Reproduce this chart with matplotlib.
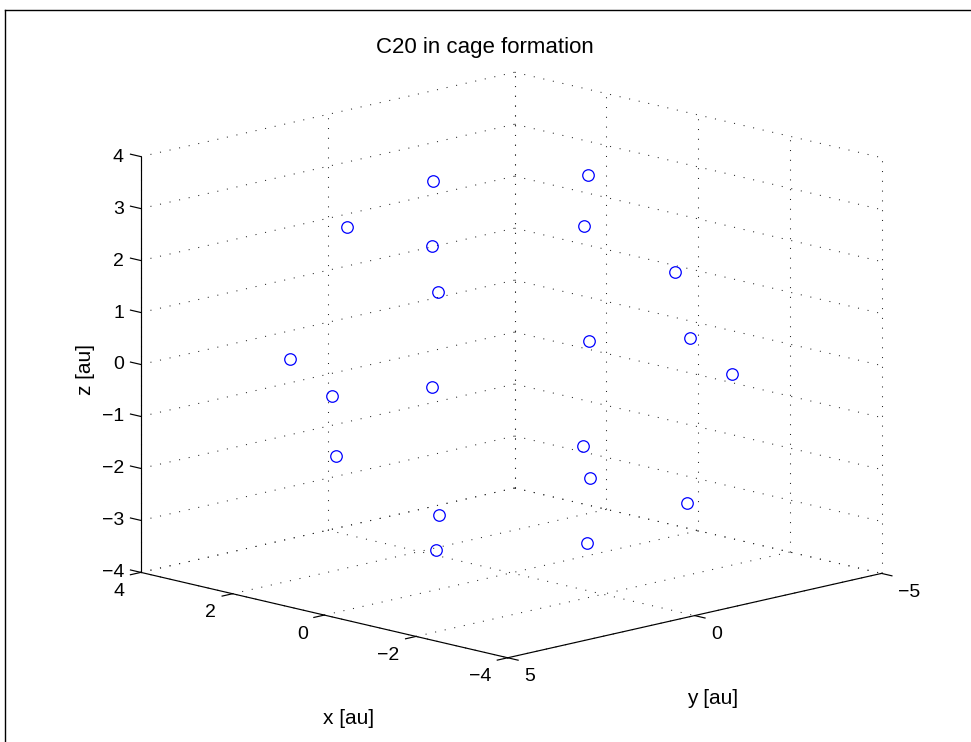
import numpy as np
import matplotlib
matplotlib.use("Agg")
import matplotlib.pyplot as plt
from matplotlib.lines import Line2D
from mpl_toolkits.mplot3d import proj3d

# ---------------- data (atomic positions, au) ----------------
x_au = [2.45, -0.10, 2.21, -1.73, -0.27, -0.76, 3.18, -3.68, 1.18, 2.89,
        -2.89, -1.16, 3.68, -3.15, 1.03, 0.27, -2.35, 1.72, 0.08, -2.41]
y_au = [-0.91, -1.94, 1.67, 0.17, 2.44, -3.45, -1.93, -0.28, -3.52, 2.36,
        -2.35, 3.53, 0.29, 1.95, 3.42, -2.44, -1.81, -0.17, 1.92, 0.94]
z_au = [2.89, 3.37, 2.48, 3.06, 2.74, 1.38, 0.43, 1.23, -0.36, -0.09,
        0.03, 0.39, -1.30, -0.60, -1.40, -2.62, -2.46, -3.26, -3.27, -2.77]

x_ticks = [-4, -2, 0, 2, 4]
y_ticks = [-5, 0, 5]
z_ticks = [-4, -3, -2, -1, 0, 1, 2, 3, 4]
xlim = (-4, 4)
ylim = (-5, 5)
zlim = (-4, 4)
title = "C20 in cage formation"
xlabel = "x [au]"
ylabel = "y [au]"
zlabel = "z [au]"

plt.rcParams['font.family'] = ['Liberation Sans', 'DejaVu Sans']
FS_TICK = 14
FS_LAB = 15
FS_TITLE = 16

W, H = 971, 742
fig = plt.figure(figsize=(W / 100, H / 100), dpi=100)
S0 = 600.0
ax = fig.add_axes([(W / 2 - S0 / 2) / W, (H / 2 - S0 / 2) / H, S0 / W, S0 / H],
                  projection='3d', proj_type='ortho', computed_zorder=False)
ax.view_init(elev=13.25, azim=135.44)
ax.set_box_aspect((1.0, 1.0034, 0.817))
ax.set_xlim(*xlim)
ax.set_ylim(*ylim)
ax.set_zlim(*zlim)
ax.set_axis_off()

# ---- calibrate axes placement so the box lands where the reference box is ----
fig.canvas.draw()


def to_px(xs, ys, zs):
    X, Y, _ = proj3d.proj_transform(np.asarray(xs, float), np.asarray(ys, float),
                                    np.asarray(zs, float), ax.get_proj())
    return ax.transData.transform(np.column_stack([X, Y]))


x0, x1 = xlim
y0, y1 = ylim
z0, z1 = zlim
corners = [(x1, y1, z0), (x0, y0, z0), (x1, y0, z1), (x0, y1, z0)]
targets = np.array([(140.7, H - 572.3), (881.7, H - 573.3),
                    (514.7, H - 72.5), (507.7, H - 657.7)])
pc = to_px([c[0] for c in corners], [c[1] for c in corners], [c[2] for c in corners])
L0 = (W / 2 - S0 / 2)
B0 = (H / 2 - S0 / 2)
q = (pc - np.array([L0, B0])) / S0
A = []
b = []
for i in range(len(corners)):
    A.append([1, 0, q[i, 0]]); b.append(targets[i, 0])
    A.append([0, 1, q[i, 1]]); b.append(targets[i, 1])
sol = np.linalg.lstsq(np.array(A), np.array(b), rcond=None)[0]
L, B, S = sol
ax.set_position([L / W, B / H, S / W, S / H])
fig.canvas.draw()

# ---------------- MATLAB-like grid, axes and ticks ----------------
grid_kw = dict(color='0.15', lw=0.75, linestyle=(0, (1.0, 8.4)), zorder=1)
for z in z_ticks:
    ax.plot([x1, x1], [y1, y0], [z, z], **grid_kw)
    ax.plot([x1, x0], [y0, y0], [z, z], **grid_kw)
for y in y_ticks:
    ax.plot([x1, x1], [y, y], [z0, z1], **grid_kw)
    ax.plot([x1, x0], [y, y], [z0, z0], **grid_kw)
for x in x_ticks:
    ax.plot([x, x], [y0, y0], [z0, z1], **grid_kw)
    ax.plot([x, x], [y1, y0], [z0, z0], **grid_kw)

axis_kw = dict(color='k', lw=0.85, zorder=2)
ax.plot([x1, x1], [y1, y1], [z0, z1], **axis_kw)   # z axis
ax.plot([x1, x0], [y1, y1], [z0, z0], **axis_kw)   # x axis
ax.plot([x0, x0], [y1, y0], [z0, z0], **axis_kw)   # y axis

tlx = 0.227
tly = 0.28


def fmt(v):
    return f"{v:g}".replace('-', '\u2212')


def px_text(px, py, s, **kw):
    fig.text(px / W, py / H, s, **kw)


zp = to_px([x1] * len(z_ticks), [y1] * len(z_ticks), z_ticks)
for z, (px, py) in zip(z_ticks, zp):
    ax.plot([x1, x1 + tlx], [y1, y1], [z, z], **axis_kw)
    px_text(px - 17.0, py - 0.5, fmt(z), ha='right', va='center', fontsize=FS_TICK)
xp = to_px(x_ticks, [y1] * len(x_ticks), [z0] * len(x_ticks))
for x, (px, py) in zip(x_ticks, xp):
    ax.plot([x, x], [y1, y1 + tly], [z0, z0], **axis_kw)
    px_text(px - 16.5, py - 19.0, fmt(x), ha='right', va='center', fontsize=FS_TICK)
yp = to_px([x0] * len(y_ticks), y_ticks, [z0] * len(y_ticks))
for y, (px, py) in zip(y_ticks, yp):
    ax.plot([x0, x0 - tlx], [y, y], [z0, z0], **axis_kw)
    px_text(px + 16.8, py - 19.0, fmt(y), ha='left', va='center', fontsize=FS_TICK)

# ---------------- data points ----------------
ax.plot(x_au, y_au, z_au, linestyle='none', marker='o', markersize=8.3,
        markerfacecolor='none', markeredgecolor='#0000ff', markeredgewidth=0.9,
        zorder=3)

# ---------------- labels and title ----------------
fig.text(349 / W, 1 - 718 / H, xlabel, ha='center', va='center', fontsize=FS_LAB)
fig.text(713 / W, 1 - 698 / H, ylabel, ha='center', va='center', fontsize=FS_LAB)
fig.text(85 / W, 1 - 370 / H, zlabel, ha='center', va='center', rotation=90, fontsize=FS_LAB)
fig.text(485 / W, 1 - 47 / H, title, ha='center', va='center', fontsize=FS_TITLE)

# figure frame (top and left edges visible in the reference)
fig.add_artist(Line2D([5 / W, 5 / W], [0, 1 - 10 / H], transform=fig.transFigure,
                      color='k', lw=1.0))
fig.add_artist(Line2D([5 / W, 1], [1 - 10 / H, 1 - 10 / H], transform=fig.transFigure,
                      color='k', lw=1.0))

fig.savefig("out.png", dpi=100)
